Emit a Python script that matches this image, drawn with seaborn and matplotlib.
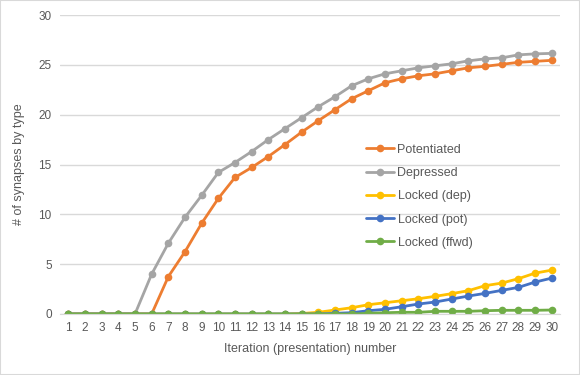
import numpy as np
import pandas as pd
import matplotlib
matplotlib.use("Agg")
import matplotlib.pyplot as plt
import seaborn as sns

iterations = list(range(1, 31))

potentiated = [0, 0, 0, 0, 0, 0, 3.75, 6.25, 9.1, 11.6, 13.7, 14.7, 15.8, 17.0, 18.25,
               19.4, 20.5, 21.6, 22.4, 23.2, 23.6, 23.9, 24.1, 24.4, 24.7, 24.85, 25.05,
               25.25, 25.35, 25.45]
depressed = [0, 0, 0, 0, 0, 4.0, 7.1, 9.7, 11.9, 14.2, 15.2, 16.3, 17.5, 18.6, 19.7,
             20.8, 21.8, 22.9, 23.6, 24.1, 24.4, 24.7, 24.9, 25.1, 25.4, 25.6, 25.7,
             26.0, 26.1, 26.15]
locked_dep = [0, 0, 0, 0, 0, 0, 0, 0, 0, 0, 0, 0, 0, 0, 0.05,
              0.17, 0.4, 0.63, 0.93, 1.13, 1.33, 1.53, 1.77, 2.04, 2.34, 2.84, 3.1,
              3.54, 4.1, 4.4]
locked_pot = [0, 0, 0, 0, 0, 0, 0, 0, 0, 0, 0, 0, 0, 0, 0,
              0, 0.07, 0.13, 0.33, 0.47, 0.73, 1.0, 1.2, 1.5, 1.8, 2.07, 2.37,
              2.67, 3.2, 3.6]
locked_ffwd = [0, 0, 0, 0, 0, 0, 0, 0, 0, 0, 0, 0, 0, 0, 0,
               0, 0, 0, 0.07, 0.13, 0.17, 0.17, 0.27, 0.27, 0.27, 0.33, 0.37,
               0.37, 0.37, 0.4]

series = {
    "Potentiated": potentiated,
    "Depressed": depressed,
    "Locked (dep)": locked_dep,
    "Locked (pot)": locked_pot,
    "Locked (ffwd)": locked_ffwd,
}
colors = ["#ED7D31", "#A5A5A5", "#FFC000", "#4472C4", "#70AD47"]

df = pd.DataFrame(
    [(it, name, v) for name, vals in series.items() for it, v in zip(iterations, vals)],
    columns=["iteration", "type", "count"],
)

sns.set_style("white")
plt.rcParams["font.family"] = ["Liberation Sans", "DejaVu Sans"]
text_col = "#595959"

fig = plt.figure(figsize=(5.8, 3.75), dpi=100)
ax = fig.add_axes([60 / 580, 61 / 375, 500 / 580, 299 / 375])

sns.lineplot(data=df, x="iteration", y="count", hue="type",
             hue_order=list(series.keys()), palette=colors,
             marker="o", markersize=5.5, markeredgewidth=0, linewidth=2,
             ax=ax)

ax.set_xlim(0.5, 30.5)
ax.set_ylim(0, 30)
ax.set_xticks(iterations)
ax.set_yticks(range(0, 31, 5))
ax.yaxis.grid(True, color="#D9D9D9", linewidth=1)
ax.set_axisbelow(True)
for s in ["top", "right", "left"]:
    ax.spines[s].set_visible(False)
ax.spines["bottom"].set_color("#D9D9D9")
ax.tick_params(axis="both", length=0, labelsize=8.5, colors=text_col, pad=6)
ax.set_xlabel("Iteration (presentation) number", fontsize=9, color=text_col, labelpad=6)
ax.set_ylabel("# of synapses by type", fontsize=9, color=text_col, labelpad=10)

ax.legend(loc="upper left", bbox_to_anchor=(0.59, 0.607), frameon=False,
          fontsize=9, labelspacing=0.9, handlelength=2.2, handletextpad=0.3,
          labelcolor=text_col)

fig.patches.append(plt.Rectangle((0, 0), 1, 1, transform=fig.transFigure,
                                 fill=False, edgecolor="#D9D9D9", linewidth=1.5))

fig.savefig("out.png", dpi=100)
